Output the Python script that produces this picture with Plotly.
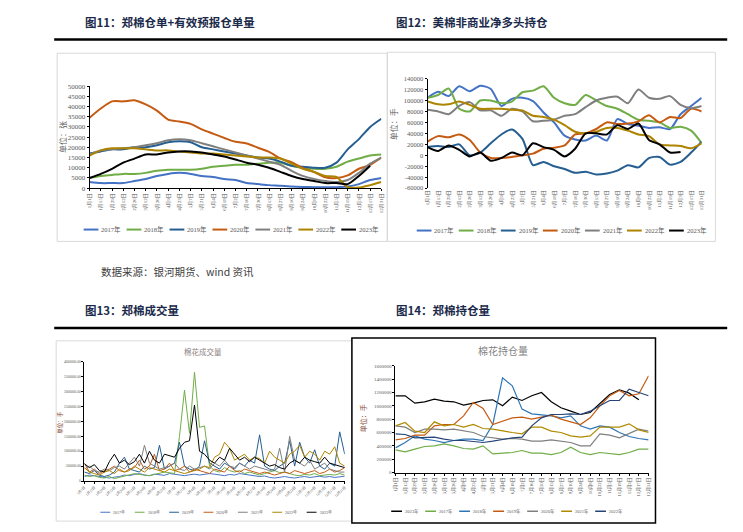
import plotly.graph_objects as go

W, H = 743, 532


def PX(x):
    return x / W


def PY(y):
    return 1 - y / H


NUM_FONT = "Liberation Serif, Noto Sans CJK SC, serif"
CJK_FONT = "Noto Sans CJK SC, sans-serif"

# ---------------- shared x axis (day of year) ----------------
TICK_DAYS = [0, 14, 28, 42, 56, 70, 84, 98, 112, 126, 140, 154, 168, 182,
             196, 210, 224, 238, 252, 266, 280, 294, 308, 322, 336, 350, 364]
TICK_LABELS = ["1月1日", "1月15日", "1月29日", "2月12日", "2月26日", "3月12日",
               "3月26日", "4月9日", "4月23日", "5月7日", "5月21日", "6月4日",
               "6月18日", "7月2日", "7月16日", "7月30日", "8月13日", "8月27日",
               "9月10日", "9月24日", "10月8日", "10月22日", "11月5日", "11月19日",
               "12月3日", "12月17日", "12月31日"]
WEEK_DAYS = list(range(0, 365, 7))

YEARS = ["2017年", "2018年", "2019年", "2020年", "2021年", "2022年", "2023年"]
YEARS_OI = ["2023年", "2017年", "2018年", "2019年", "2020年", "2021年", "2022年"]

# ---------------- Fig 11: warehouse receipts (张) ----------------
WR_2017 = [3000, 2500, 2500, 2500, 3500, 4500, 6000, 7000, 7500, 7000, 6000, 5500, 4500, 4000,
           2500, 2000, 1500, 1200, 800, 600, 500, 500, 500, 800, 2000, 4000, 5000]
WR_2018 = [5000, 6000, 6500, 7000, 7000, 7500, 8500, 9000, 9000, 9000, 9500, 10500, 11000, 11500,
           11500, 12000, 12500, 12500, 11000, 10000, 9500, 9500, 10500, 13000, 14500, 16000, 16500]
WR_2019 = [17000, 18000, 19000, 19000, 20000, 20000, 21000, 22500, 23000, 22500, 20000, 19000, 18000,
           17000, 16000, 15000, 14500, 13000, 11000, 10500, 10000, 10000, 12500, 19000, 24000, 30000, 34000]
WR_2020 = [34500, 39000, 42500, 42500, 43000, 41000, 38000, 33600, 32600, 31500, 28800, 26700, 24600,
           22700, 21900, 19800, 17800, 14600, 12700, 9800, 7900, 5300, 5000, 6300, 9500, 11400, 15000]
WR_2021 = [16500, 18500, 19000, 19500, 20000, 21000, 22000, 23500, 24000, 23500, 22000, 20500, 19000,
           17500, 16000, 14500, 13000, 11500, 8500, 6000, 4500, 3500, 3000, 4000, 7500, 12000, 15000]
WR_2022 = [16000, 18500, 19500, 19500, 19500, 19000, 18500, 18500, 18000, 17500, 17000, 17000, 16500,
           16000, 15500, 15000, 15000, 14500, 12000, 9500, 8000, 6000, 5500, 500, 300, 1500, 3000]
WR_2023 = [5000, 7000, 9500, 12500, 14500, 16500, 16500, 17500, 18000, 18000, 17500, 16500, 15500,
           14000, 12500, 11500, 10000, 8000, 6000, 4500, 3500, 2500, 2500, 2000, 6000, 11000, None]
WR_TICKS = [0, 5000, 10000, 15000, 20000, 25000, 30000, 35000, 40000, 45000, 50000]

# ---------------- Fig 12: US cotton non-commercial net long (手) ----------------
NL_2017 = [105000, 116000, 108000, 126000, 117000, 127000, 121000, 90000, 103000, 105000, 99000, 78000,
           60000, 36000, 29000, 27000, 36000, 27000, 66000, 57000, 54000, 50000, 51000, 48000, 75000,
           90000, 105000]
NL_2018 = [105000, 110000, 122000, 85000, 80000, 100000, 100000, 95000, 98000, 115000, 118000, 126000,
           105000, 95000, 92000, 110000, 100000, 90000, 85000, 75000, 65000, 63000, 60000, 50000, 52000,
           45000, 22000]
NL_2019 = [15000, 17000, 15000, 20000, 0, 5000, 22000, 38000, 47000, 30000, -18000, -12000, -20000,
           -25000, -32000, -30000, -35000, -33000, -28000, -18000, -22000, -5000, -3000, -17000, -12000,
           5000, 25000]
NL_2020 = [25000, 35000, 33000, 38000, 28000, 5000, -5000, -5000, -3000, 0, 3000, 12000, 14000, 18000,
           38000, 40000, 48000, 60000, 57000, 58000, 62000, 73000, 60000, 70000, 68000, 85000, 80000]
NL_2021 = [83000, 80000, 75000, 90000, 97000, 82000, 82000, 72000, 85000, 80000, 62000, 63000, 65000,
           72000, 75000, 88000, 100000, 105000, 107000, 95000, 120000, 105000, 103000, 108000, 92000,
           86000, 90000]
NL_2022 = [98000, 93000, 93000, 98000, 92000, 85000, 85000, 85000, 83000, 82000, 72000, 70000, 65000,
           55000, 43000, 40000, 43000, 50000, 50000, 45000, 38000, 35000, 20000, 18000, 17000, 13000, 22000]
NL_2023 = [15000, 8000, 18000, 10000, -2000, 5000, -10000, -5000, 5000, 0, 22000, 15000, 10000, -2000,
           12000, 40000, 40000, 38000, 55000, 48000, 58000, 28000, 20000, 5000, 6000, None, None]
NL_TICKS = [-60000, -40000, -20000, 0, 20000, 40000, 60000, 80000, 100000, 120000, 140000]
NL_TICK_TEXT = ["-60000", "-40000", "-20000", "0", "20000", "40000", "60000", "80000",
                "100000", "120000", "140000"]

# ---------------- Fig 13: Zhengzhou cotton volume (手), weekly ----------------
VOL_2017 = [150000, 200000, 180000, 160000, 120000, 100000, 130000, 150000, 200000, 180000,
            220000, 250000, 200000, 180000, 230000, 210000, 190000, 250000, 220000, 200000,
            180000, 210000, 230000, 200000, 220000, 250000, 230000, 200000, 180000, 220000,
            200000, 250000, 230000, 200000, 180000, 150000, 170000, 120000, 100000, 130000,
            150000, 120000, 100000, 130000, 150000, 120000, 140000, 160000, 130000, 150000,
            120000, 140000, 160000]
VOL_2018 = [200000, 150000, 180000, 120000, 100000, 150000, 80000, 120000, 180000, 200000,
            250000, 220000, 200000, 180000, 220000, 250000, 300000, 280000, 250000, 1500000,
            3050000, 1600000, 3650000, 1800000, 1850000, 500000, 350000, 300000, 450000, 350000,
            300000, 350000, 250000, 300000, 250000, 200000, 250000, 300000, 350000, 280000,
            300000, 250000, 200000, 180000, 220000, 200000, 250000, 180000, 200000, 220000,
            200000, 250000, 200000]
VOL_2019 = [300000, 250000, 350000, 200000, 150000, 200000, 300000, 600000, 800000, 400000,
            350000, 300000, 500000, 400000, 450000, 1200000, 400000, 500000, 600000, 1300000,
            500000, 400000, 350000, 500000, 1350000, 600000, 500000, 400000, 600000, 500000,
            400000, 600000, 500000, 700000, 600000, 1550000, 500000, 400000, 350000, 500000,
            600000, 1350000, 500000, 1300000, 800000, 600000, 1050000, 500000, 400000, 600000,
            500000, 1650000, 900000]
VOL_2020 = [600000, 300000, 400000, 250000, 350000, 400000, 500000, 350000, 300000, 400000,
            450000, 700000, 400000, 500000, 900000, 350000, 400000, 600000, 350000, 400000,
            500000, 300000, 400000, 350000, 300000, 250000, 400000, 350000, 300000, 500000,
            350000, 300000, 400000, 350000, 300000, 250000, 300000, 250000, 200000, 250000,
            300000, 250000, 350000, 300000, 250000, 300000, 350000, 250000, 300000, 400000,
            300000, 350000, 450000]
VOL_2021 = [400000, 500000, 350000, 300000, 400000, 350000, 450000, 500000, 400000, 600000,
            800000, 500000, 1200000, 600000, 500000, 400000, 450000, 500000, 600000, 400000,
            350000, 500000, 400000, 450000, 500000, 400000, 600000, 500000, 700000, 500000,
            450000, 600000, 500000, 400000, 500000, 450000, 400000, 350000, 400000, 1100000,
            300000, 1500000, 700000, 600000, 500000, 700000, 400000, 500000, 600000, 400000,
            350000, 300000, 300000]
VOL_2022 = [450000, 300000, 250000, 200000, 300000, 350000, 250000, 400000, 300000, 350000,
            500000, 400000, 300000, 450000, 400000, 350000, 300000, 400000, 350000, 300000,
            250000, 300000, 350000, 400000, 500000, 450000, 800000, 900000, 1300000, 1100000,
            700000, 800000, 900000, 700000, 800000, 750000, 600000, 1000000, 800000, 700000,
            600000, 900000, 1000000, 1200000, 800000, 1000000, 900000, 700000, 1000000, 900000,
            1150000, 600000, 500000]
VOL_2023 = [580000, 450000, 550000, 350000, 300000, 650000, 900000, 600000, 700000, 550000,
            650000, 900000, 600000, 1000000, 700000, 600000, 900000, 850000, 800000, 1100000,
            1300000, 1350000, 2550000, 1000000, 900000, 700000, 600000, 800000, 700000, 1100000,
            900000, 700000, 800000, 650000, 800000, 700000, 600000, 500000, 550000, 450000,
            400000, 600000, 700000, 600000, 800000, 700000, 650000, 600000, 800000, 600000,
            550000, 500000, 450000]
VOL_TICKS = [0, 500000, 1000000, 1500000, 2000000, 2500000, 3000000, 3500000, 4000000]
VOL_TICK_TEXT = ["0", "500000.00", "1000000.00", "1500000.00", "2000000.00", "2500000.00",
                 "3000000.00", "3500000.00", "4000000.00"]

# ---------------- Fig 14: Zhengzhou cotton open interest (手) ----------------
OI_2023 = [1150000, 1150000, 1040000, 1060000, 1100000, 1070000, 1060000, 1010000, 1040000, 1080000,
           1090000, 1000000, 1130000, 1080000, 1150000, 1200000, 1060000, 970000, 920000, 870000,
           900000, 1040000, 1170000, 1240000, 1190000, 1090000, None]
OI_2017 = [340000, 310000, 350000, 390000, 400000, 430000, 400000, 360000, 350000, 400000, 280000,
           290000, 300000, 330000, 290000, 290000, 270000, 300000, 380000, 300000, 270000, 300000,
           280000, 270000, 300000, 350000, 350000]
OI_2018 = [370000, 450000, 550000, 500000, 480000, 450000, 480000, 500000, 500000, 480000, 720000,
           1420000, 1300000, 950000, 880000, 870000, 850000, 820000, 850000, 700000, 650000, 700000,
           680000, 600000, 540000, 510000, 490000]
OI_2019 = [490000, 510000, 560000, 560000, 700000, 720000, 720000, 850000, 1050000, 960000, 720000,
           770000, 820000, 830000, 800000, 830000, 860000, 800000, 760000, 720000, 820000, 1000000,
           1150000, 1230000, 1150000, 1180000, 1450000]
OI_2020 = [700000, 680000, 600000, 650000, 650000, 640000, 650000, 620000, 600000, 540000, 520000,
           500000, 510000, 500000, 470000, 470000, 490000, 470000, 450000, 400000, 400000, 580000,
           560000, 520000, 580000, 650000, 620000]
OI_2021 = [700000, 750000, 620000, 600000, 760000, 700000, 720000, 680000, 720000, 660000, 650000,
           620000, 600000, 580000, 680000, 680000, 620000, 600000, 550000, 530000, 550000, 680000,
           680000, 680000, 730000, 640000, 600000]
OI_2022 = [580000, 570000, 520000, 530000, 530000, 500000, 480000, 480000, 460000, 450000, 470000,
           500000, 520000, 530000, 700000, 820000, 870000, 870000, 880000, 870000, 920000, 1000000,
           1080000, 1080000, 1250000, 1200000, 1150000]
OI_TICKS = [0, 200000, 400000, 600000, 800000, 1000000, 1200000, 1400000, 1600000]
OI_TICK_TEXT = ["0", "200000", "400000", "600000", "800000", "1000000", "1200000", "1400000", "1600000"]

# ---------------- styles ----------------
COLORS = ["#4472C4", "#70AD47", "#255E91", "#C55A11", "#7F7F7F", "#AD8400", "#000000"]
COLORS_OI = ["#000000", "#70AD47", "#2E75B6", "#C55A11", "#7F7F7F", "#B08A00", "#264478"]
TICK_COLOR = "#595959"
BROWN = "#8B4C39"

fig = go.Figure()


def add_lines(xs, series, colors, names, ax, width, spline):
    for vals, col, nm in zip(series, colors, names):
        line = dict(color=col, width=width)
        if spline:
            line.update(shape="spline", smoothing=0.7)
        fig.add_trace(go.Scatter(x=xs, y=vals, mode="lines", name=nm, line=line,
                                 xaxis="x" + ax, yaxis="y" + ax, showlegend=False,
                                 hoverinfo="skip"))


add_lines(TICK_DAYS, [WR_2017, WR_2018, WR_2019, WR_2020, WR_2021, WR_2022, WR_2023],
          COLORS, YEARS, "", 2.0, True)
add_lines(TICK_DAYS, [NL_2017, NL_2018, NL_2019, NL_2020, NL_2021, NL_2022, NL_2023],
          COLORS, YEARS, "2", 2.0, True)
add_lines(WEEK_DAYS, [VOL_2017, VOL_2018, VOL_2019, VOL_2020, VOL_2021, VOL_2022, VOL_2023],
          COLORS, YEARS, "3", 1.0, False)
add_lines(TICK_DAYS, [OI_2023, OI_2017, OI_2018, OI_2019, OI_2020, OI_2021, OI_2022],
          COLORS_OI, YEARS_OI, "4", 1.2, False)


def xaxis(domain, anchor, size, angle, line=True):
    return dict(domain=domain, anchor=anchor, range=[0, 364], tickmode="array",
                tickvals=TICK_DAYS, ticktext=TICK_LABELS, tickangle=angle,
                tickfont=dict(family=NUM_FONT, size=size, color=TICK_COLOR),
                showgrid=False, zeroline=False, showline=line, linecolor="#000000",
                linewidth=1, ticks="outside" if line else "", ticklen=2,
                tickcolor="#000000", fixedrange=True)


def yaxis(domain, anchor, rng, vals, text, size):
    return dict(domain=domain, anchor=anchor, range=rng, tickmode="array",
                tickvals=vals, ticktext=text,
                tickfont=dict(family=NUM_FONT, size=size, color=TICK_COLOR),
                showgrid=False, zeroline=False, showline=True, linecolor="#000000",
                linewidth=1, ticks="outside", ticklen=2, tickcolor="#000000",
                fixedrange=True)


fig.update_layout(
    width=W, height=H, margin=dict(l=0, r=0, t=0, b=0),
    paper_bgcolor="white", plot_bgcolor="rgba(0,0,0,0)", showlegend=False,
    xaxis=xaxis([PX(82), PX(379)], "y", 5, -90),
    yaxis=yaxis([PY(187), PY(83.3)], "x", [0, 50000], WR_TICKS, [str(v) for v in WR_TICKS], 7),
    xaxis2=xaxis([PX(426), PX(705)], "y2", 5, -90, line=False),
    yaxis2=yaxis([PY(187), PY(75.7)], "x2", [-60000, 140000], NL_TICKS, NL_TICK_TEXT, 6.5),
    xaxis3=xaxis([PX(76.7), PX(341.7)], "y3", 3.5, -45),
    yaxis3=yaxis([PY(484.3), PY(363.3)], "x3", [0, 4000000], VOL_TICKS, VOL_TICK_TEXT, 3.5),
    xaxis4=xaxis([PX(393.3), PX(651)], "y4", 4.8, -90),
    yaxis4=yaxis([PY(475.7), PY(367.3)], "x4", [0, 1600000], OI_TICKS, OI_TICK_TEXT, 5),
)

shapes = []
annotations = []


def rect(x0, y0, x1, y1, color, width):
    shapes.append(dict(type="rect", xref="paper", yref="paper", x0=PX(x0), x1=PX(x1),
                       y0=PY(y1), y1=PY(y0), line=dict(color=color, width=width),
                       fillcolor="rgba(0,0,0,0)", layer="below"))


def hline(x0, x1, y, color, width):
    shapes.append(dict(type="line", xref="paper", yref="paper", x0=PX(x0), x1=PX(x1),
                       y0=PY(y), y1=PY(y), line=dict(color=color, width=width)))


def text(x, y, s, size, color, family=CJK_FONT, anchor="left", angle=0, bold=False):
    if bold:
        s = "<b>" + s + "</b>"
    annotations.append(dict(xref="paper", yref="paper", x=PX(x), y=PY(y), text=s,
                            showarrow=False, xanchor=anchor, yanchor="middle",
                            textangle=angle, font=dict(family=family, size=size, color=color)))


# chart frames
rect(49, 50, 385, 241, "#D9D9D9", 1)
rect(385, 49, 719, 241, "#D9D9D9", 1)
rect(48, 342, 349, 525, "#D9D9D9", 1)
rect(349, 339, 658, 527, "#000000", 1.5)

# section rules
hline(46, 731, 36, "#000000", 2.5)
hline(46, 731, 329, "#000000", 2.5)

# section headings
HEAD = "#1B2A4A"
text(75, 18, "图11：郑棉仓单+有效预报仓单量", 11.5, HEAD, bold=True)
text(392, 18, "图12：美棉非商业净多头持仓", 11.5, HEAD, bold=True)
text(92, 272, "数据来源：银河期货、wind 资讯", 10.5, "#404040")
text(75, 311, "图13：郑棉成交量", 11.5, HEAD, bold=True)
text(392, 311, "图14：郑棉持仓量", 11.5, HEAD, bold=True)

# chart titles / axis titles
text(197, 353, "棉花成交量", 7.5, "#8C7F7F", anchor="center")
text(503, 352, "棉花持仓量", 10, "#7F7F7F", anchor="center")
text(55, 135, "单位：张", 8, TICK_COLOR, anchor="center", angle=-90)
text(391, 122, "单位：手", 8, TICK_COLOR, anchor="center", angle=-90)
text(52, 425, "单位：手", 5.5, BROWN, anchor="center", angle=-90)
text(360, 421, "单位：手", 7, BROWN, anchor="center", angle=-90)


def legend(names, colors, x_start, pitch, y, seg, gap, size, width):
    for i, (nm, col) in enumerate(zip(names, colors)):
        x0 = x_start + i * pitch
        shapes.append(dict(type="line", xref="paper", yref="paper", x0=PX(x0), x1=PX(x0 + seg),
                           y0=PY(y), y1=PY(y), line=dict(color=col, width=width)))
        text(x0 + seg + gap, y, nm, size, TICK_COLOR, family=NUM_FONT)


legend(YEARS, COLORS, 76, 43.7, 229, 15, 1, 6.5, 2)
legend(YEARS, COLORS, 415, 42.8, 230, 15, 1, 6.5, 2)
legend(YEARS, COLORS, 93, 35, 516, 10, 1, 4, 1)
legend(YEARS_OI, COLORS_OI, 389, 34.6, 515, 11, 1, 4.5, 1.5)

fig.update_layout(shapes=shapes, annotations=annotations)
fig.write_html(
    "out.html",
    config={"displayModeBar": False},
    post_script="document.body.style.margin='0px';document.body.style.overflow='hidden';",
)
